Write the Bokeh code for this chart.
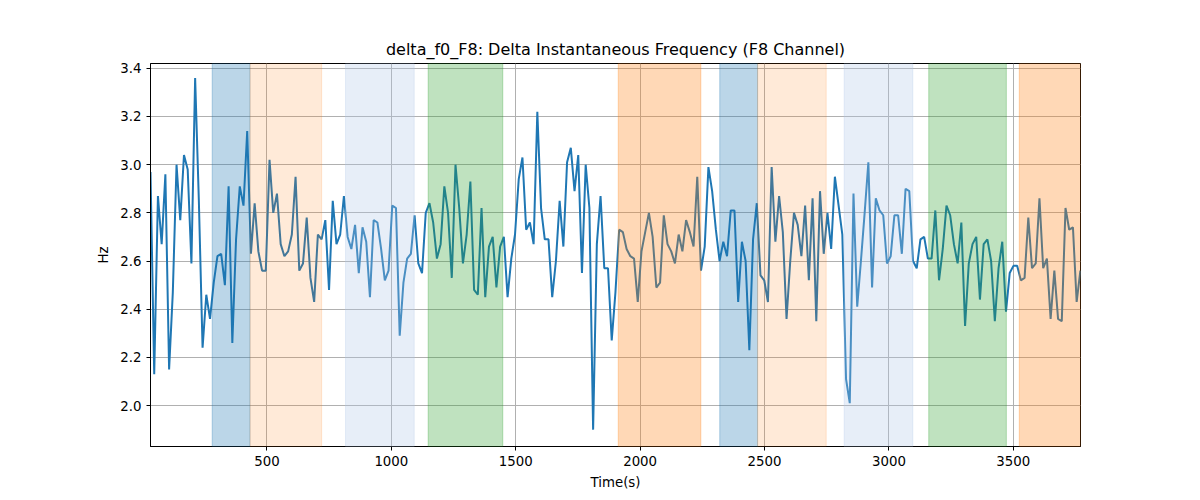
import numpy as np
from bokeh.plotting import figure
from bokeh.models import BoxAnnotation, FixedTicker, Range1d, CustomJSTickFormatter
from bokeh.embed import file_html
from bokeh.resources import INLINE

t_start = 32
t_step = 14.95
freq_hz = [2.97,2.13,2.87,2.67,2.96,2.15,2.47,3.00,2.77,3.04,2.98,2.59,3.36,2.85,2.24,2.46,2.36,2.51,2.62,2.63,2.50,2.91,2.26,2.69,2.91,2.83,3.14,2.63,2.84,2.64,2.56,2.56,3.02,2.80,2.88,2.67,2.62,2.64,2.71,2.95,2.56,2.59,2.78,2.53,2.43,2.71,2.69,2.77,2.48,2.85,2.67,2.71,2.87,2.70,2.65,2.75,2.55,2.74,2.68,2.45,2.77,2.76,2.65,2.52,2.56,2.83,2.82,2.29,2.51,2.61,2.63,2.79,2.59,2.55,2.80,2.84,2.76,2.61,2.67,2.91,2.80,2.53,3.00,2.82,2.59,2.71,2.93,
 2.48,2.46,2.82,2.45,2.66,2.70,2.49,2.66,2.70,2.45,2.61,2.71,2.94,3.03,2.73,2.76,2.67,3.22,2.82,2.69,2.69,2.45,2.60,2.85,2.66,3.01,3.07,2.89,3.04,2.55,3.00,2.82,1.90,2.67,2.87,2.57,2.57,2.27,2.47,2.73,2.72,2.65,2.62,2.61,2.43,2.64,2.72,2.80,2.70,2.49,2.51,2.79,2.67,2.64,2.59,2.71,2.64,2.77,2.72,2.66,2.95,2.56,2.66,2.99,2.89,2.73,2.60,2.68,2.62,2.81,2.81,2.43,2.68,2.60,2.23,2.69,2.84,2.54,2.52,2.43,2.99,2.68,2.87,
 2.72,2.36,2.60,2.80,2.75,2.62,2.83,2.52,2.86,2.35,2.89,2.63,2.80,2.65,2.95,2.83,2.71,2.11,2.01,2.88,2.41,2.60,2.80,3.01,2.49,2.86,2.81,2.79,2.59,2.62,2.79,2.79,2.63,2.90,2.89,2.60,2.57,2.69,2.70,2.61,2.61,2.81,2.52,2.65,2.83,2.79,2.67,2.59,2.76,2.33,2.59,2.67,2.70,2.44,2.67,2.69,2.60,2.35,2.57,2.68,2.39,2.55,2.58,2.58,2.52,2.53,2.78,2.57,2.59,2.86,2.57,2.61,2.36,2.56,2.36,2.35,2.82,2.73,2.74,2.43,2.56]
time_s = t_start + np.arange(len(freq_hz)) * t_step

span_start = [280, 432, 816, 1148, 1912, 2320, 2472, 2820, 3160, 3524]
span_end = [432, 720, 1092, 1448, 2244, 2472, 2748, 3096, 3472, 3770]
span_color = ["#1f77b4", "#ff7f0e", "#aec7e8", "#2ca02c", "#ff7f0e", "#1f77b4", "#ff7f0e", "#aec7e8", "#2ca02c", "#ff7f0e"]
span_alpha = [0.3, 0.16, 0.3, 0.3, 0.3, 0.3, 0.16, 0.3, 0.3, 0.3]

p = figure(width=1184, height=492, output_backend="svg", toolbar_location=None,
           title="delta_f0_F8: Delta Instantaneous Frequency (F8 Channel)",
           x_range=Range1d(32, 3770), y_range=Range1d(1.83, 3.42),
           min_border_left=150, min_border_right=104, min_border_top=63, min_border_bottom=29)
p.title.align = "center"
p.title.text_font = "DejaVu Sans"
p.title.text_font_style = "normal"
p.title.text_font_size = "12pt"
p.title.text_color = "black"

for s, e, c, a in zip(span_start, span_end, span_color, span_alpha):
    p.add_layout(BoxAnnotation(left=s, right=e, fill_color=c, fill_alpha=a,
                               line_color=c, line_alpha=a))

p.line(time_s, freq_hz, line_color="#1f77b4", line_width=2)

p.xaxis.ticker = FixedTicker(ticks=[500, 1000, 1500, 2000, 2500, 3000, 3500])
p.yaxis.ticker = FixedTicker(ticks=[2.0, 2.2, 2.4, 2.6, 2.8, 3.0, 3.2, 3.4])
p.yaxis.formatter = CustomJSTickFormatter(code="return tick.toFixed(1);")
p.xaxis.axis_label = "Time(s)"
p.yaxis.axis_label = "Hz"
for ax in (p.xaxis[0], p.yaxis[0]):
    ax.axis_label_text_font = "DejaVu Sans"
    ax.axis_label_text_font_style = "normal"
    ax.axis_label_text_font_size = "10pt"
    ax.axis_label_text_color = "black"
    ax.major_label_text_font = "DejaVu Sans"
    ax.major_label_text_font_size = "10pt"
    ax.major_label_text_color = "black"
    ax.minor_tick_line_color = None
    ax.major_tick_in = 0
    ax.major_tick_out = 4
    ax.axis_label_standoff = 6
    ax.axis_line_color = "black"
    ax.major_tick_line_color = "black"
p.grid.grid_line_color = "#b0b0b0"
p.grid.grid_line_width = 1
p.outline_line_color = "black"
p.outline_line_width = 1

open("out.html", "w").write(file_html(p, INLINE))
